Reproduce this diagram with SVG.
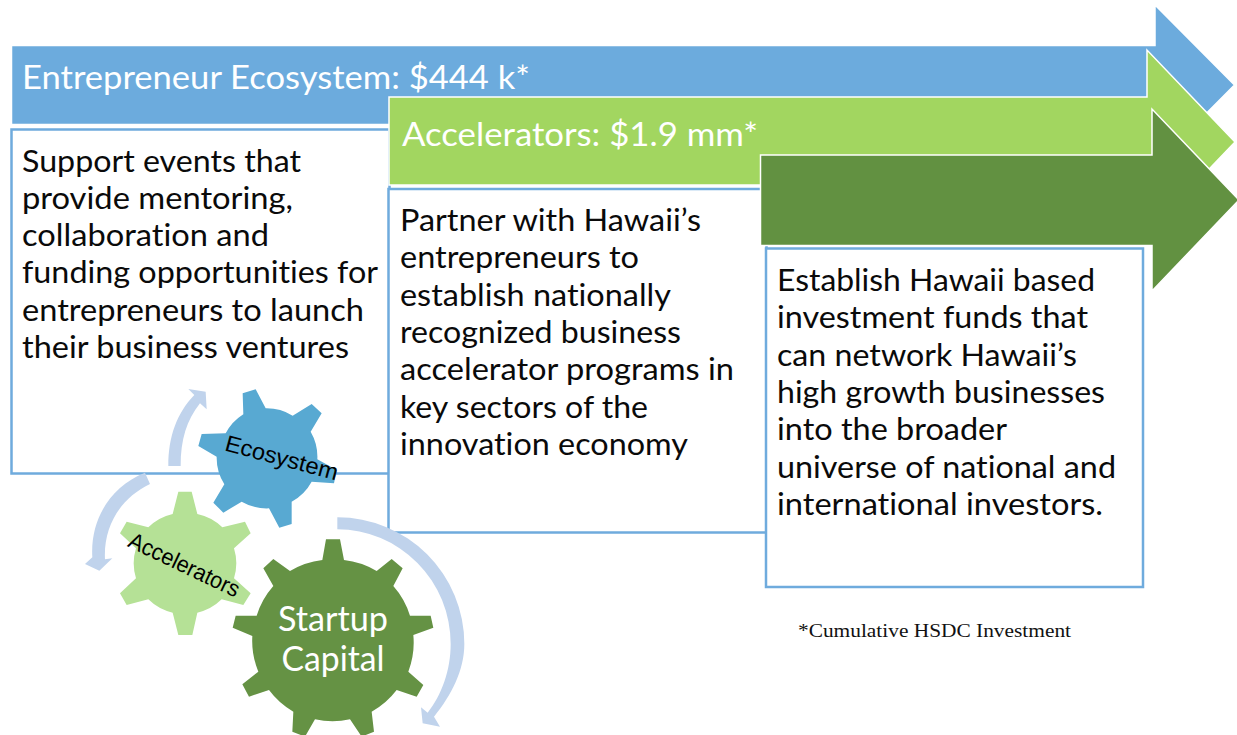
<svg xmlns="http://www.w3.org/2000/svg" width="1237" height="735" viewBox="0 0 1237 735">
<style>
.box{fill:#fff;stroke:#6fabdd;stroke-width:2.5}
.arrow{stroke:#fff;stroke-width:1.5}
.body{font-family:Lato,"Noto Sans",sans-serif;font-size:31px;fill:#0a0a0a;font-variant-ligatures:none}
.title{font-family:Lato,"Noto Sans",sans-serif;font-size:32.500px;fill:#fff;font-variant-ligatures:none}
.gearlabel{font-family:"Liberation Sans",Arial,sans-serif;font-size:23px;fill:#000}
.cycle{fill:#c0d3ec}
</style>
<rect width="1237" height="735" fill="#fff"/>
<g id="ecosystem-box">
<rect class="box" x="11.500" y="129.500" width="378" height="344"/>
<text class="body" x="22" y="171.500" textLength="279" lengthAdjust="spacingAndGlyphs">Support events that</text>
<text class="body" x="22" y="208.500" textLength="271" lengthAdjust="spacingAndGlyphs">provide mentoring,</text>
<text class="body" x="22" y="246" textLength="247" lengthAdjust="spacingAndGlyphs">collaboration and</text>
<text class="body" x="22" y="283" textLength="356" lengthAdjust="spacingAndGlyphs">funding opportunities for</text>
<text class="body" x="22" y="320.500" textLength="342" lengthAdjust="spacingAndGlyphs">entrepreneurs to launch</text>
<text class="body" x="22" y="357.500" textLength="327" lengthAdjust="spacingAndGlyphs">their business ventures</text>
</g>
<g id="ecosystem-arrow">
<path class="arrow" fill="#6cabdd" d="M11.500,45.500H1155V5L1234.500,85L1155,165V124.500H11.500Z"/>
<text class="title" x="22" y="89" textLength="508" lengthAdjust="spacingAndGlyphs">Entrepreneur Ecosystem: $444 k*</text>
</g>
<g id="accelerators-box">
<rect class="box" x="388.500" y="189" width="378" height="343.500"/>
<text class="body" x="400" y="231" textLength="301" lengthAdjust="spacingAndGlyphs">Partner with Hawaii’s</text>
<text class="body" x="400" y="268" textLength="239" lengthAdjust="spacingAndGlyphs">entrepreneurs to</text>
<text class="body" x="400" y="305.500" textLength="271" lengthAdjust="spacingAndGlyphs">establish nationally</text>
<text class="body" x="400" y="343" textLength="281" lengthAdjust="spacingAndGlyphs">recognized business</text>
<text class="body" x="400" y="380" textLength="334" lengthAdjust="spacingAndGlyphs">accelerator programs in</text>
<text class="body" x="400" y="417.500" textLength="248" lengthAdjust="spacingAndGlyphs">key sectors of the</text>
<text class="body" x="400" y="454.500" textLength="288" lengthAdjust="spacingAndGlyphs">innovation economy</text>
</g>
<g id="accelerators-arrow">
<path class="arrow" fill="#a2d660" d="M389,97H1147V50L1235,142L1147,234V185H389Z"/>
<text class="title" x="402" y="146" textLength="356" lengthAdjust="spacingAndGlyphs">Accelerators: $1.9 mm*</text>
</g>
<g id="capital-box">
<rect class="box" x="766" y="248.500" width="377" height="338.500"/>
<text class="body" x="777" y="291" textLength="318" lengthAdjust="spacingAndGlyphs">Establish Hawaii based</text>
<text class="body" x="777" y="328" textLength="311" lengthAdjust="spacingAndGlyphs">investment funds that</text>
<text class="body" x="777" y="365.500" textLength="300" lengthAdjust="spacingAndGlyphs">can network Hawaii’s</text>
<text class="body" x="777" y="403" textLength="328" lengthAdjust="spacingAndGlyphs">high growth businesses</text>
<text class="body" x="777" y="440" textLength="230" lengthAdjust="spacingAndGlyphs">into the broader</text>
<text class="body" x="777" y="477.500" textLength="339" lengthAdjust="spacingAndGlyphs">universe of national and</text>
<text class="body" x="777" y="514.500" textLength="326" lengthAdjust="spacingAndGlyphs">international investors.</text>
</g>
<g id="capital-arrow">
<path class="arrow" fill="#629141" d="M760.500,155H1152V109L1239,200L1152,291V245.500H760.500Z"/>
</g>
<text id="footnote" x="798" y="637" font-family="Liberation Serif,Times New Roman,serif" font-size="18.500" fill="#111" textLength="273" lengthAdjust="spacingAndGlyphs">*Cumulative HSDC Investment</text>
<g id="connectors" transform="translate(60 370) scale(.33333)">
<path class="cycle" d="M325,288C325,200 350,130 403,75L385,57L437,65L440,118L420,100C380,150 362,210 362,288Z"/>
<path class="cycle" d="M255,308C150,350 90,450 97,562L75,582L118,602L157,565L135,568C130,470 180,385 270,342Z"/>
<path class="cycle" d="M832,442A380,380 0 0 1 1213,822C1213,900 1175,975 1122,1040L1140,1070L1088,1060L1083,1012L1103,1028C1145,975 1172,900 1172,822A340,344 0 0 0 832,478Z"/>
</g>
<g id="gear-ecosystem">
<path fill="#58a9d2" transform="translate(60 370) scale(.33333)" d="M550,133L548,70L587,58L617,115A150,150 0 0 1 698,137L755,102L785,130L752,185A150,150 0 0 1 772,268L830,300L822,340L755,335A150,150 0 0 1 695,395L695,462L658,473L627,415A150,150 0 0 1 545,395L490,428L460,398L493,343A150,150 0 0 1 470,260L415,228L425,192L497,190A150,150 0 0 1 550,133Z"/>
<text class="gearlabel" transform="translate(281.500 458.500) rotate(15)" text-anchor="middle" y="7" textLength="116" lengthAdjust="spacingAndGlyphs">Ecosystem</text>
</g>
<g id="gear-accelerators">
<path fill="#b5e196" transform="translate(60 370) scale(.33333)" d="M338,432L355,365L395,365L412,432A152,152 0 0 1 487,472L555,455L572,490L522,535A152,152 0 0 1 522,625L572,670L550,705L485,688A152,152 0 0 1 412,728L397,795L355,795L338,728A152,152 0 0 1 265,688L200,705L180,670L228,625A152,152 0 0 1 228,535L180,490L200,455L265,472A152,152 0 0 1 338,432Z"/>
<text class="gearlabel" transform="translate(184 565.500) rotate(25.500)" text-anchor="middle" y="7" textLength="120" lengthAdjust="spacingAndGlyphs">Accelerators</text>
</g>
<g id="gear-capital">
<path fill="#659244" transform="translate(60 370) scale(.33333)" d="M787,570L798,508L840,508L852,570A243,243 0 0 1 950,603L995,567L1028,595L1000,648A243,243 0 0 1 1050,737L1112,737L1120,773L1060,795A243,243 0 0 1 1045,905L1090,945L1070,980L1010,960A243,243 0 0 1 935,1025L942,1085L905,1100L870,1048A243,243 0 0 1 765,1048L735,1100L697,1085L700,1025A243,243 0 0 1 627,960L567,980L547,943L595,905A243,243 0 0 1 577,798L518,773L527,737L590,737A243,243 0 0 1 640,648L610,595L640,567L690,603A243,243 0 0 1 787,570Z"/>
<text x="333" y="631" text-anchor="middle" font-family="Lato,Noto Sans,sans-serif" font-size="34" fill="#fff" textLength="110" lengthAdjust="spacingAndGlyphs">Startup</text>
<text x="333" y="671" text-anchor="middle" font-family="Lato,Noto Sans,sans-serif" font-size="34" fill="#fff" textLength="103" lengthAdjust="spacingAndGlyphs">Capital</text>
</g>
</svg>
